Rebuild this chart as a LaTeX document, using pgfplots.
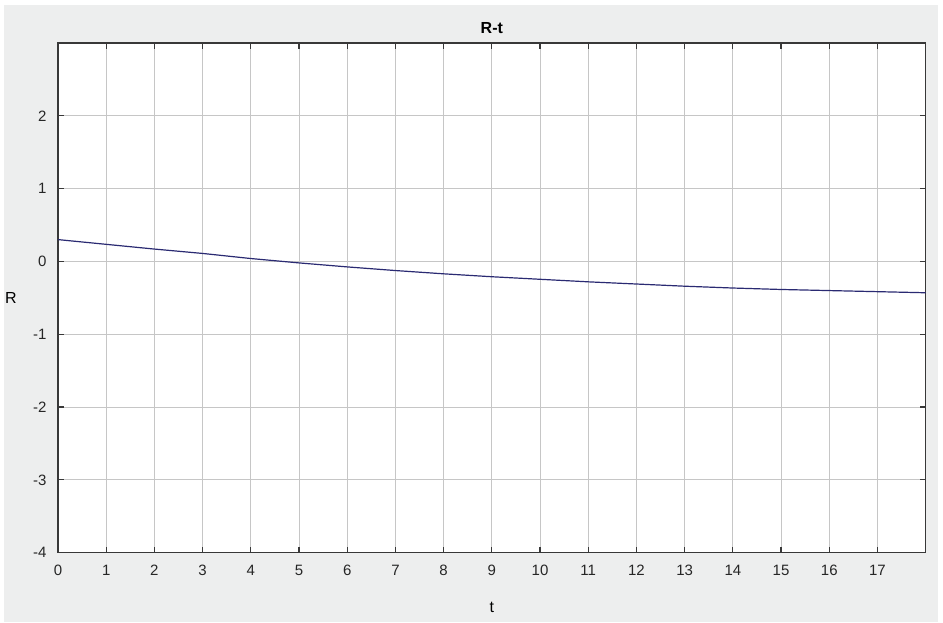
\documentclass[border=0pt]{standalone}
\usepackage{fontspec}
\setmainfont{Liberation Sans}
\usepackage{pgfplots}
\pgfplotsset{compat=1.18}

\definecolor{panel}{HTML}{EDEEEE}
\definecolor{gridc}{HTML}{C6C6C6}
\definecolor{framec}{HTML}{383838}
\definecolor{curve}{HTML}{2A2A72}

\begin{document}
\begin{tikzpicture}[x=1pt,y=1pt]
% window background
\fill[white] (-58,-69.3) rectangle (885,552.7);
\fill[panel] (-54,-69.3) rectangle (880,547.7);
\begin{axis}[
  at={(0,0)}, anchor=south west,
  scale only axis, width=867.7pt, height=509.7pt,
  xmin=0, xmax=18, ymin=-4, ymax=3,
  xtick={0,...,17}, ytick={-4,...,2},
  axis background/.style={fill=white},
  grid=major, major grid style={gridc, line width=0.8pt},
  axis line style={framec, line width=1.2pt},
  tick style={framec, line width=1.2pt}, major tick length=6pt,
  tick align=inside, xtick pos=both, ytick pos=both,
  /pgf/number format/assume math mode=true,
  ticklabel style={font=\fontsize{15}{15}\selectfont, text=black!85},
  xticklabel style={yshift=-9pt},
  yticklabel style={xshift=-8pt},
  title={R-t},
  title style={font=\bfseries\fontsize{16}{16}\selectfont, yshift=0pt},
  xlabel={t},
  xlabel style={at={(axis description cs:0.5,0)}, anchor=center, yshift=-55pt,
                font=\fontsize{16}{16}\selectfont},
  ylabel={R},
  ylabel style={at={(axis description cs:0,0.5)}, anchor=center, rotate=-90,
                xshift=-47pt, font=\fontsize{16}{16}\selectfont},
]
\addplot[curve, line width=1.2pt] coordinates {
  (0,0.30) (1,0.235) (2,0.17) (3,0.11) (4,0.04) (5,-0.02)
  (6,-0.075) (7,-0.125) (8,-0.17) (9,-0.21) (10,-0.245)
  (11,-0.28) (12,-0.31) (13,-0.34) (14,-0.365) (15,-0.385)
  (16,-0.40) (17,-0.415) (18,-0.43)
};
\end{axis}
\end{tikzpicture}
\end{document}
